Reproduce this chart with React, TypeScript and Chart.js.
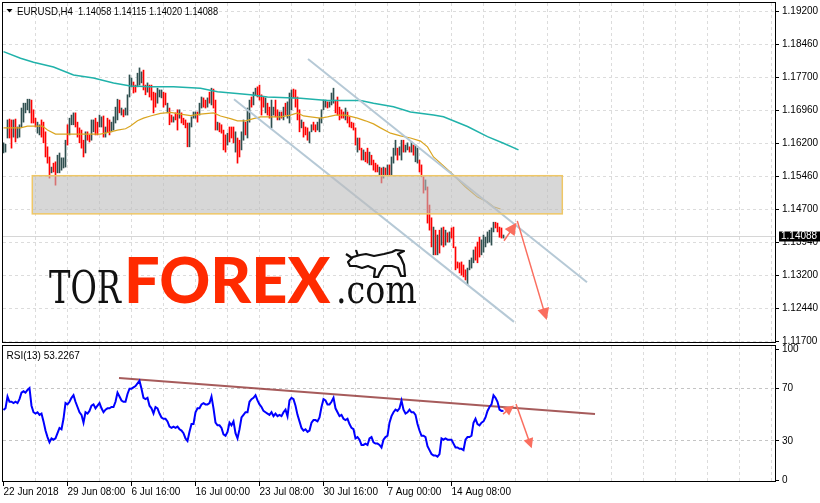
import React, { useEffect, useRef } from 'react';
import { Chart, registerables } from 'chart.js';
Chart.register(...registerables);

// ---------- DATA ----------
const highs = [
1.1621,1.1618,1.1673,1.1675,1.1673,1.1673,1.1675,1.1657,1.1662,1.1700,
1.1711,1.1711,1.1720,1.1720,1.1718,1.1696,1.1677,1.1668,1.1662,1.1673,
1.1668,1.1646,1.1612,1.1589,1.1566,1.1575,1.1578,1.1593,1.1598,1.1587,
1.1587,1.1627,1.1662,1.1677,1.1684,1.1689,1.1689,1.1668,1.1655,1.1650,
1.1627,1.1646,1.1646,1.1639,1.1673,1.1673,1.1677,1.1668,1.1684,1.1680,
1.1682,1.1657,1.1677,1.1673,1.1668,1.1680,1.1702,1.1720,1.1718,1.1700,
1.1696,1.1700,1.1730,1.1775,1.1768,1.1759,1.1752,1.1779,1.1791,1.1782,
1.1786,1.1752,1.1757,1.1752,1.1752,1.1736,1.1734,1.1745,1.1741,1.1741,
1.1736,1.1734,1.1711,1.1700,1.1684,1.1680,1.1689,1.1696,1.1696,1.1689,
1.1677,1.1673,1.1666,1.1666,1.1680,1.1691,1.1691,1.1691,1.1711,1.1725,
1.1723,1.1718,1.1723,1.1736,1.1745,1.1743,1.1718,1.1668,1.1666,1.1662,
1.1650,1.1639,1.1643,1.1657,1.1657,1.1657,1.1646,1.1632,1.1627,1.1646,
1.1673,1.1668,1.1700,1.1718,1.1725,1.1736,1.1745,1.1748,1.1752,1.1730,
1.1725,1.1723,1.1711,1.1702,1.1718,1.1702,1.1718,1.1696,1.1691,1.1691,
1.1702,1.1711,1.1714,1.1734,1.1741,1.1743,1.1741,1.1725,1.1696,1.1673,
1.1668,1.1657,1.1655,1.1646,1.1662,1.1668,1.1662,1.1668,1.1677,1.1696,
1.1718,1.1718,1.1714,1.1714,1.1734,1.1745,1.1718,1.1725,1.1702,1.1696,
1.1691,1.1700,1.1691,1.1680,1.1668,1.1666,1.1655,1.1632,1.1632,1.1609,
1.1605,1.1600,1.1609,1.1600,1.1593,1.1582,1.1575,1.1571,1.1566,1.1564,
1.1566,1.1564,1.1571,1.1571,1.1589,1.1609,1.1627,1.1609,1.1612,1.1627,
1.1627,1.1616,1.1621,1.1612,1.1623,1.1616,1.1616,1.1609,1.1582,1.1571,
1.1544,1.1537,1.1521,1.1480,1.1451,1.1430,1.1423,1.1412,1.1423,1.1428,
1.1430,1.1423,1.1417,1.1419,1.1428,1.1430,1.1385,1.1351,1.1349,1.1351,
1.1344,1.1333,1.1337,1.1355,1.1360,1.1378,1.1385,1.1396,1.1407,1.1401,
1.1412,1.1407,1.1419,1.1423,1.1428,1.1441,1.1441,1.1439,1.1430,1.1428,
1.1412];

const lows = [
1.1598,1.1600,1.1632,1.1632,1.1609,1.1634,1.1623,1.1632,1.1634,1.1657,
1.1668,1.1689,1.1696,1.1689,1.1666,1.1666,1.1657,1.1643,1.1639,1.1634,
1.1621,1.1589,1.1575,1.1541,1.1553,1.1555,1.1525,1.1553,1.1553,1.1559,
1.1564,1.1566,1.1616,1.1639,1.1662,1.1662,1.1657,1.1634,1.1621,1.1609,
1.1589,1.1598,1.1627,1.1623,1.1627,1.1646,1.1639,1.1639,1.1657,1.1657,
1.1634,1.1634,1.1646,1.1639,1.1646,1.1650,1.1666,1.1673,1.1689,1.1684,
1.1680,1.1684,1.1684,1.1725,1.1748,1.1734,1.1736,1.1748,1.1752,1.1757,
1.1741,1.1730,1.1736,1.1725,1.1718,1.1689,1.1702,1.1711,1.1725,1.1723,
1.1702,1.1707,1.1689,1.1662,1.1668,1.1668,1.1673,1.1650,1.1677,1.1666,
1.1662,1.1655,1.1612,1.1612,1.1657,1.1677,1.1677,1.1668,1.1684,1.1700,
1.1702,1.1700,1.1702,1.1711,1.1707,1.1700,1.1650,1.1650,1.1646,1.1643,
1.1605,1.1600,1.1616,1.1623,1.1632,1.1621,1.1600,1.1575,1.1589,1.1605,
1.1627,1.1639,1.1632,1.1668,1.1702,1.1707,1.1730,1.1725,1.1718,1.1684,
1.1702,1.1689,1.1684,1.1677,1.1655,1.1684,1.1680,1.1673,1.1673,1.1677,
1.1673,1.1684,1.1677,1.1666,1.1696,1.1723,1.1702,1.1673,1.1646,1.1655,
1.1634,1.1639,1.1627,1.1621,1.1646,1.1650,1.1646,1.1650,1.1646,1.1666,
1.1696,1.1702,1.1700,1.1702,1.1707,1.1711,1.1689,1.1684,1.1673,1.1677,
1.1677,1.1673,1.1666,1.1657,1.1655,1.1650,1.1616,1.1600,1.1605,1.1582,
1.1582,1.1578,1.1575,1.1571,1.1571,1.1559,1.1555,1.1555,1.1548,1.1530,
1.1541,1.1548,1.1548,1.1548,1.1548,1.1575,1.1593,1.1582,1.1593,1.1582,
1.1600,1.1600,1.1605,1.1600,1.1600,1.1593,1.1578,1.1575,1.1555,1.1544,
1.1507,1.1514,1.1439,1.1423,1.1385,1.1367,1.1367,1.1367,1.1371,1.1389,
1.1385,1.1389,1.1396,1.1396,1.1405,1.1383,1.1333,1.1337,1.1326,1.1321,
1.1317,1.1310,1.1299,1.1333,1.1337,1.1349,1.1355,1.1349,1.1362,1.1367,
1.1373,1.1385,1.1394,1.1396,1.1389,1.1419,1.1428,1.1419,1.1407,1.1405,
1.1405];

// 1 = bullish bar, 0 = bearish bar
const ups = [
1,1,1,0,0,1,0,1,1,1, 1,1,1,1,0,0,0,1,1,0, 0,0,0,0,1,0,0,1,1,1,
1,1,0,1,1,1,0,0,0,0, 0,1,0,0,1,1,0,0,1,1, 0,1,0,0,1,1,1,1,0,1,
0,1,1,1,1,0,0,1,1,1, 0,0,1,0,0,0,0,1,1,1, 0,0,1,0,0,1,0,0,1,0,
0,0,0,1,1,1,1,0,1,1, 0,0,1,0,1,0,0,1,0,0, 0,0,1,0,0,0,1,0,0,1,
1,0,1,1,0,1,1,0,0,0, 0,1,0,0,1,1,0,0,1,0, 1,0,1,1,1,0,0,0,0,1,
0,0,0,1,1,0,0,1,1,1, 1,1,0,1,1,1,0,0,0,0, 0,1,0,0,0,0,0,1,0,0,
1,0,0,1,0,0,0,0,1,0, 1,0,1,0,1,1,1,0,1,1, 0,1,1,0,1,0,1,1,0,0,
0,1,0,0,0,1,0,1,0,1, 0,1,0,1,0,0,0,0,0,0, 0,0,1,1,1,1,0,0,0,1,
1,1,1,1,1,1,0,0,0,0, 1];

const rsi = [
53.7,55,64,60,60,59,60,59,62,67, 68,67,69,70.5,57,52,51,52,50,51,
45,38,33,29,32,31,32,36,40,39, 47,59,58,60,63,65,60,56,52,50,
44,52,51,53,57,58,55,57,59,55, 52,54,55,55,56,56,60,67,64,61,
60,60,66,70,70,71,72,74,76,70, 63,62,63,57,55,51,56,55,51,48,
47,47,45,41,40,41,40,41,39,38, 36,32,30,37,43,43,52,55,55,58,
59,58,58,59,64,55,44,42,42,40, 35,34,37,44,42,45,36,32,39,48,
50,52,52,60,62,63,65,61,58,56, 53,52,51,50,52,49,51,49,50,49,
52,54,49,61,63,62,57,50,45,40, 38,39,37,38,44,46,46,45,48,56,
62,61,58,58,60,63,55,52,49,50, 47,46,47,43,40,39,32,33,31,27,
27,28,27,32,33,29,28,28,27,25, 31,33,34,44,49,52,54,53,55,61,
54,51,52,54,52,52,50,43,38,34, 34,33,26,23,20,19,19,18,20,32,
31,32,31,31,31,28,25,25,24,24, 23,31,33,33,34,44,47,43,42,44,
45,48,53,56,58,65,63,60,54,53, 53.2];

// moving averages: [bar index, price]
const maFast = [
[0,1.1655],[8.5,1.1655],[12,1.1659],[19.5,1.1659],[22,1.1650],[26,1.1641],[33.5,1.1641],
[48.5,1.1641],[53.5,1.1646],[57,1.1650],[61,1.1653],[63.5,1.1659],[67,1.1671],[70,1.1677],
[73.5,1.1682],[78.5,1.1688],[83.5,1.1690],[88.5,1.1686],[93.5,1.1683],[98.5,1.1686],
[105,1.1689],[108.5,1.1682],[113.5,1.1676],[117,1.1671],[121,1.1671],[125,1.1676],
[128.5,1.1680],[138.5,1.1680],[143.5,1.1684],[147,1.1689],[150,1.1682],[153.5,1.1680],
[158.5,1.1677],[162,1.1680],[166,1.1684],[171,1.1684],[177,1.1677],[181,1.1671],
[185,1.1664],[188.5,1.1655],[193.5,1.1643],[198.5,1.1637],[203.5,1.1632],[208.5,1.1625],
[212,1.1612],[215,1.1589],[218.5,1.1575],[225,1.1548],[231,1.1521],[237,1.1498],
[242,1.1487],[245,1.1476],[248.5,1.1471]];
const maSlow = [
[0,1.1828],[8.5,1.1813],[15,1.1804],[25,1.1793],[35,1.1775],[45,1.1768],[55,1.1757],
[63.5,1.1750],[73.5,1.1748],[85,1.1748],[98.5,1.1745],[107,1.1737],[123.5,1.1730],
[132,1.1725],[148.5,1.1722],[162,1.1717],[178.5,1.1717],[185,1.1711],[195,1.1703],
[203.5,1.1691],[215,1.1684],[220,1.1680],[232,1.1658],[242,1.1635],[250,1.1620],[257.5,1.1605]];

const priceTickValues = [1.1170,1.1245,1.1320,1.1395,1.1470,1.1545,1.1620,1.1695,1.1770,1.1845,1.1920];
const priceTickLabels = ['1.11700','1.12440','1.13200','1.13940','1.14700','1.15460','1.16200','1.16960','1.17700','1.18460','1.19200'];
const timeTickIdx = [0,32,64,96,128,160,192,224];
const timeTickLabels = ['22 Jun 2018','29 Jun 08:00','6 Jul 16:00','16 Jul 00:00','23 Jul 08:00','30 Jul 16:00','7 Aug 00:00','14 Aug 08:00'];
const rsiTickValues = [0,30,70,100];
const rsiTickLabels = ['0','30','70','100'];

const titleSymbol = 'EURUSD,H4';
const titleOhlc = ['1.14058','1.14115','1.14020','1.14088'];
const lastPrice = 1.14088;
const rsiTitle = 'RSI(13) 53.2267';

// analysis drawings: [bar index, value]
const zoneBars = [14.4, 279.4];
const zonePrices = [1.1460, 1.15465];
const channelUpper = [[152.25,1.1811],[291.75,1.1305]];
const channelLower = [[115.25,1.1720],[255.25,1.1215]];
const priceArrows = [[[250.25,1.1399],[256.5,1.1440]],[[256.9,1.1444],[271.6,1.1219]]];
const rsiTrend = [[57.75,78.2],[295.75,50.6]];
const rsiArrows = [[[249.75,50.6],[255.2,57.2]],[[256.25,58.3],[264.1,24.4]]];

// ---------- HELPERS ----------
const FONT = '"Liberation Sans", Arial, sans-serif';
const GRID = '#dcdcdc';
const X_MIN = -0.25, X_MAX = 386.25;
const gridIdx: number[] = [];
for (let i = 0; i <= 384; i += 16) gridIdx.push(i);

function drawArrow(ctx: CanvasRenderingContext2D, x0: number, y0: number, x1: number, y1: number, color: string, head: number) {
  const ang = Math.atan2(y1 - y0, x1 - x0);
  ctx.save();
  ctx.strokeStyle = color; ctx.fillStyle = color; ctx.lineWidth = 1.5;
  ctx.beginPath(); ctx.moveTo(x0, y0);
  ctx.lineTo(x1 - Math.cos(ang) * head * 0.8, y1 - Math.sin(ang) * head * 0.8); ctx.stroke();
  ctx.beginPath();
  ctx.moveTo(x1, y1);
  ctx.lineTo(x1 - Math.cos(ang) * head + Math.sin(ang) * head * 0.5, y1 - Math.sin(ang) * head - Math.cos(ang) * head * 0.5);
  ctx.lineTo(x1 - Math.cos(ang) * head - Math.sin(ang) * head * 0.5, y1 - Math.sin(ang) * head + Math.cos(ang) * head * 0.5);
  ctx.closePath(); ctx.fill();
  ctx.restore();
}

function drawFrame(ctx: CanvasRenderingContext2D, a: any) {
  ctx.save();
  ctx.strokeStyle = '#000'; ctx.lineWidth = 1;
  ctx.strokeRect(a.left - 0.5, a.top - 0.5, a.right - a.left, a.bottom - a.top);
  ctx.restore();
}

const noPad = (s: any) => { s.paddingTop = 0; s.paddingBottom = 0; s.paddingLeft = 0; s.paddingRight = 0; };

const mainDecor = {
  id: 'mainDecor',
  beforeDatasetsDraw(chart: any) {
    const { ctx, chartArea: a, scales } = chart;
    const py = Math.round(scales.y.getPixelForValue(lastPrice)) + 0.5;
    ctx.save();
    ctx.strokeStyle = '#d6d6d6'; ctx.lineWidth = 1;
    ctx.beginPath(); ctx.moveTo(a.left, py); ctx.lineTo(a.right, py); ctx.stroke();
    ctx.restore();
  },
  afterDatasetsDraw(chart: any) {
    const { ctx, scales } = chart;
    const x = scales.x, y = scales.y;
    const zx0 = x.getPixelForValue(zoneBars[0]), zx1 = x.getPixelForValue(zoneBars[1]);
    const zy0 = y.getPixelForValue(zonePrices[1]), zy1 = y.getPixelForValue(zonePrices[0]);
    ctx.save();
    ctx.fillStyle = 'rgba(188,188,188,0.6)';
    ctx.fillRect(zx0, zy0, zx1 - zx0, zy1 - zy0);
    ctx.strokeStyle = '#efc766'; ctx.lineWidth = 1.5;
    ctx.strokeRect(zx0, zy0, zx1 - zx0, zy1 - zy0);
    ctx.restore();
    priceArrows.forEach(([p0, p1]) => {
      drawArrow(ctx, x.getPixelForValue(p0[0]), y.getPixelForValue(p0[1]), x.getPixelForValue(p1[0]), y.getPixelForValue(p1[1]), '#fa6e5f', 12);
    });
    // logo
    ctx.save();
    ctx.textBaseline = 'alphabetic'; ctx.textAlign = 'left';
    ctx.fillStyle = '#111';
    ctx.font = '45px "DejaVu Serif Condensed", "DejaVu Serif", serif';
    ctx.fillText('TOR', 49, 303, 72);
    ctx.fillStyle = '#ff2a00';
    ctx.font = '900 63px Lato, Roboto, sans-serif';
    ctx.fillText('FOREX', 124, 303, 212);
    ctx.fillStyle = '#111';
    ctx.font = '40px "DejaVu Serif Condensed", "DejaVu Serif", serif';
    ctx.fillText('.com', 336, 303, 81);
    ctx.strokeStyle = '#111'; ctx.lineWidth = 2.2; ctx.lineJoin = 'round';
    const bull = [[348,262],[353,257],[360,255],[366,254],[374,256],[384,254],[392,252],[396,250],[404,251],[398,254],[401,258],[404,265],[405,276],[401,276],[398,268],[392,266],[384,266],[380,272],[378,277],[374,277],[375,269],[368,266],[362,268],[356,266],[350,266]];
    ctx.beginPath();
    bull.forEach(([bx, by], i) => (i ? ctx.lineTo(bx, by) : ctx.moveTo(bx, by)));
    ctx.closePath(); ctx.stroke();
    ctx.beginPath(); ctx.moveTo(352, 258); ctx.lineTo(346, 254); ctx.moveTo(358, 256); ctx.lineTo(356, 250); ctx.stroke();
    ctx.restore();
  },
  afterDraw(chart: any) {
    const { ctx, chartArea: a, scales } = chart;
    drawFrame(ctx, a);
    ctx.save();
    ctx.fillStyle = '#000';
    ctx.beginPath(); ctx.moveTo(6.5, 9); ctx.lineTo(12.5, 9); ctx.lineTo(9.5, 12.5); ctx.closePath(); ctx.fill();
    ctx.font = '11px ' + FONT; ctx.textBaseline = 'alphabetic'; ctx.textAlign = 'left';
    ctx.fillText(titleSymbol, 17, 14.5, 56);
    ctx.fillText(titleOhlc.join(' '), 78, 14.5, 140);
    const py = Math.round(scales.y.getPixelForValue(lastPrice));
    ctx.font = '10px ' + FONT;
    ctx.fillRect(779, py - 4.5, 41, 10);
    ctx.fillStyle = '#fff'; ctx.textBaseline = 'middle';
    ctx.fillText(lastPrice.toFixed(5), 781, py + 0.5);
    ctx.restore();
  }
};

const rsiDecor = {
  id: 'rsiDecor',
  afterDatasetsDraw(chart: any) {
    const { ctx, scales } = chart;
    rsiArrows.forEach(([p0, p1]) => {
      drawArrow(ctx, scales.x.getPixelForValue(p0[0]), scales.y.getPixelForValue(p0[1]), scales.x.getPixelForValue(p1[0]), scales.y.getPixelForValue(p1[1]), '#fa6e5f', 10);
    });
  },
  afterDraw(chart: any) {
    const { ctx, chartArea: a } = chart;
    drawFrame(ctx, a);
    ctx.save();
    ctx.fillStyle = '#000'; ctx.font = '10px ' + FONT; ctx.textBaseline = 'alphabetic';
    ctx.fillText(rsiTitle, 6.5, 15);
    ctx.restore();
  }
};

const xScaleBase = (showLabels: boolean) => ({
  type: 'linear',
  min: X_MIN, max: X_MAX, offset: false,
  afterBuildTicks: (s: any) => { s.ticks = gridIdx.map(v => ({ value: v })); },
  afterFit: (s: any) => { s.height = showLabels ? 21 : 0; noPad(s); },
  grid: {
    offset: false,
    color: (c: any) => (c.tick && c.tick.value === 0 ? 'rgba(0,0,0,0)' : GRID),
    lineWidth: 1,
    drawTicks: showLabels,
    tickLength: 4,
    tickColor: (c: any) => (c.tick && timeTickIdx.includes(c.tick.value) ? '#000' : 'rgba(0,0,0,0)'),
    tickBorderDash: [],
  },
  border: { display: false, dash: [3, 3] },
  ticks: {
    display: showLabels,
    autoSkip: false, maxRotation: 0, minRotation: 0,
    align: 'start', padding: 0,
    color: '#000', font: { family: FONT, size: 10 },
    callback: (v: number) => { const k = timeTickIdx.indexOf(v); return k >= 0 ? timeTickLabels[k] : ''; },
  },
});

export default function App() {
  const mainRef = useRef<HTMLCanvasElement>(null);
  const rsiRef = useRef<HTMLCanvasElement>(null);

  useEffect(() => {
    Chart.defaults.font.family = FONT;
    Chart.defaults.font.size = 10;
    Chart.defaults.color = '#000';

    const barData = highs.map((h, i) => ({ x: i, y: [lows[i], h] }));
    const main = new Chart(mainRef.current as HTMLCanvasElement, {
      type: 'bar',
      data: {
        datasets: [
          { type: 'line', data: channelUpper.map(([i, v]) => ({ x: i, y: v })), borderColor: '#b6c9d6', borderWidth: 2, pointRadius: 0, order: 1 } as any,
          { type: 'line', data: channelLower.map(([i, v]) => ({ x: i, y: v })), borderColor: '#b6c9d6', borderWidth: 2, pointRadius: 0, order: 1 } as any,
          { type: 'line', data: maFast.map(([i, v]) => ({ x: i, y: v })), borderColor: '#daa520', borderWidth: 1.2, pointRadius: 0, order: 2 } as any,
          { type: 'line', data: maSlow.map(([i, v]) => ({ x: i, y: v })), borderColor: '#20b2aa', borderWidth: 1.5, pointRadius: 0, order: 2 } as any,
          {
            type: 'bar', data: barData as any,
            backgroundColor: ups.map(u => (u ? '#2f4f4f' : '#ff0000')),
            barThickness: 1, borderWidth: 0, borderSkipped: false, grouped: false, order: 10,
          } as any,
        ],
      },
      options: {
        responsive: false, animation: false, events: [],
        layout: { padding: { left: 3, top: 3, right: 0, bottom: 2 } },
        plugins: { legend: { display: false }, tooltip: { enabled: false } },
        scales: {
          x: xScaleBase(false) as any,
          y: {
            type: 'linear', position: 'right',
            min: 1.1945 - 0.0002268 * 343, max: 1.1945 - 0.0002268 * 3,
            afterBuildTicks: (s: any) => { s.ticks = priceTickValues.map(v => ({ value: v })); },
            afterFit: (s: any) => { s.width = 44; noPad(s); },
            grid: { color: GRID, tickLength: 3, tickColor: '#000', tickBorderDash: [] },
            border: { display: false, dash: [3, 3] },
            ticks: {
              padding: 3, color: '#000', font: { family: FONT, size: 10 },
              callback: (_v: number, idx: number) => priceTickLabels[idx],
            },
          } as any,
        },
      },
      plugins: [mainDecor],
    });

    const rsiChart = new Chart(rsiRef.current as HTMLCanvasElement, {
      type: 'line',
      data: {
        datasets: [
          { data: rsi.map((v, i) => ({ x: i, y: v })), borderColor: '#0000ff', borderWidth: 2, pointRadius: 0, order: 0 },
          { data: rsiTrend.map(([i, v]) => ({ x: i, y: v })), borderColor: 'rgba(150,62,62,0.85)', borderWidth: 2, pointRadius: 0, order: 1 },
        ],
      },
      options: {
        responsive: false, animation: false, events: [],
        layout: { padding: { left: 3, top: 2, right: 0, bottom: 0 } },
        plugins: { legend: { display: false }, tooltip: { enabled: false } },
        scales: {
          x: xScaleBase(true) as any,
          y: {
            type: 'linear', position: 'right',
            min: -1.36, max: 102.66,
            afterBuildTicks: (s: any) => { s.ticks = rsiTickValues.map(v => ({ value: v })); },
            afterFit: (s: any) => { s.width = 44; noPad(s); },
            grid: {
              color: (c: any) => (c.tick && (c.tick.value === 30 || c.tick.value === 70) ? '#c4c4c4' : 'rgba(0,0,0,0)'),
              tickLength: 3, tickColor: '#000', tickBorderDash: [],
            },
            border: { display: false, dash: [3, 3] },
            ticks: {
              padding: 3, color: '#000', font: { family: FONT, size: 10 },
              callback: (_v: number, idx: number) => rsiTickLabels[idx],
            },
          } as any,
        },
      },
      plugins: [rsiDecor],
    });

    return () => { main.destroy(); rsiChart.destroy(); };
  }, []);

  return (
    <div style={{ position: 'fixed', left: 0, top: 0, width: 820, height: 503, background: '#fff', overflow: 'hidden' }}>
      <canvas ref={mainRef} width={820} height={345} style={{ position: 'absolute', left: 0, top: 0, display: 'block' }} />
      <canvas ref={rsiRef} width={820} height={159} style={{ position: 'absolute', left: 0, top: 344, display: 'block' }} />
    </div>
  );
}
